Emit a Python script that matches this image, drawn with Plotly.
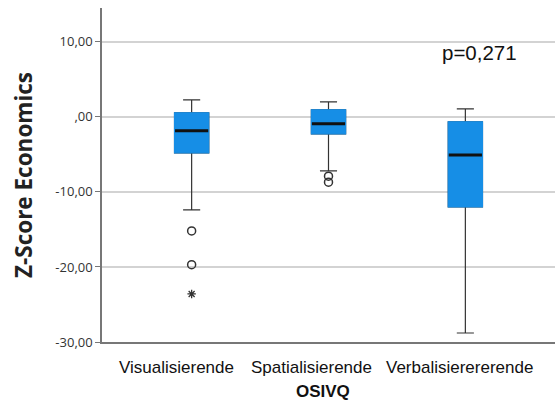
import plotly.graph_objects as go

categories = ["Visualisierende", "Spatialisierende", "Verbalisierererende"]
upper_fence = [2.27, 2.0, 1.07]
q3 = [0.53, 0.93, -0.67]
median = [-1.87, -0.93, -5.07]
q1 = [-4.8, -2.27, -12.0]
lower_fence = [-12.4, -7.2, -28.8]

outlier_cat = ["Visualisierende", "Visualisierende", "Spatialisierende", "Spatialisierende"]
outlier_val = [-15.2, -19.7, -7.9, -8.7]
extreme_cat = ["Visualisierende"]
extreme_val = [-23.6]

y_ticks = [10, 0, -10, -20, -30]
y_ticktext = ["10,00", ",00", "-10,00", "-20,00", "-30,00"]

BLUE = "#168ee6"
DARK = "#333333"
BW = 0.25
label_shift = [-15, -17, -6]  # pixel offsets of category labels (style)

fig = go.Figure()
# whiskers layer (dark)
fig.add_trace(go.Box(x=categories, q1=q1, median=median, q3=q3,
                     lowerfence=lower_fence, upperfence=upper_fence,
                     width=BW, whiskerwidth=0.5, line=dict(color=DARK, width=1.2),
                     fillcolor=BLUE, boxpoints=False, hoverinfo="skip", showlegend=False))
# blue box layer covering box outline
fig.add_trace(go.Box(x=categories, q1=q1, median=median, q3=q3,
                     lowerfence=q1, upperfence=q3,
                     width=BW, whiskerwidth=0, line=dict(color=BLUE, width=1.2),
                     fillcolor=BLUE, boxpoints=False, hoverinfo="skip", showlegend=False))
# median line layer
fig.add_trace(go.Box(x=categories, q1=median, median=median, q3=median,
                     lowerfence=median, upperfence=median,
                     width=BW * 0.97, whiskerwidth=0, line=dict(color="#111111", width=3),
                     fillcolor="rgba(0,0,0,0)", boxpoints=False, hoverinfo="skip", showlegend=False))
fig.add_trace(go.Scatter(x=outlier_cat, y=outlier_val, mode="markers",
                         marker=dict(symbol="circle-open", size=8, color=DARK, line=dict(width=1.5, color=DARK)),
                         showlegend=False))
fig.add_trace(go.Scatter(x=extreme_cat, y=extreme_val, mode="markers",
                         marker=dict(symbol="asterisk-open", size=7, color=DARK, line=dict(width=1.3, color=DARK)),
                         showlegend=False))

annotations = [dict(text="p=0,271", x=2.105, y=8.6, xref="x", yref="y",
                    showarrow=False, font=dict(family="Liberation Sans, Arial", size=20.5, color="#111111"))]
for cat, sh in zip(categories, label_shift):
    annotations.append(dict(text=cat, x=cat, y=0, xref="x", yref="paper",
                            xanchor="center", yanchor="middle", yshift=-25, xshift=sh,
                            showarrow=False,
                            font=dict(family="Liberation Sans, Arial", size=17, color="#111111")))
annotations.append(dict(text="<b>OSIVQ</b>", x=0.487, y=0, xref="paper", yref="paper",
                        xanchor="center", yanchor="middle", yshift=-49, showarrow=False,
                        font=dict(family="Liberation Sans, Arial", size=17, color="#111111")))

fig.update_layout(
    width=557, height=403,
    margin=dict(l=102, r=2, t=8, b=61),
    plot_bgcolor="white", paper_bgcolor="white",
    boxmode="overlay",
    showlegend=False,
    annotations=annotations,
)
fig.update_xaxes(
    type="category", categoryorder="array", categoryarray=categories,
    range=[-0.655, 2.655],
    showline=True, linecolor="#777777", linewidth=1.5,
    showgrid=False, ticks="", showticklabels=False,
)
fig.update_yaxes(
    range=[-30, 14.5],
    tickvals=y_ticks, ticktext=y_ticktext,
    showline=True, linecolor="#777777", linewidth=1.5,
    showgrid=True, gridcolor="#d3d3d3", gridwidth=1.5,
    zeroline=False,
    ticks="outside", ticklen=5, tickcolor="#777777",
    tickfont=dict(family="Open Sans", size=13, color="#333333"),
    title=dict(text="<b>Z-Score Economics</b>", font=dict(family="Open Sans", size=22.5, color="#222222"), standoff=16),
)

fig.write_html("out.html")
